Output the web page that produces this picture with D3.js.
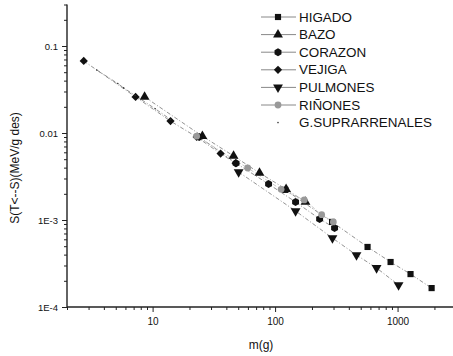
<!DOCTYPE html>
<html>
<head>
<meta charset="utf-8">
<script src="https://cdn.jsdelivr.net/npm/d3@7"></script>
<style>
  body { margin: 0; background: #fff; }
  text { font-family: "Liberation Sans", Arial, sans-serif; fill: #111; }
</style>
</head>
<body>
<svg id="chart" width="453" height="356"></svg>
<script>
// series: organ masses (g) and S values (MeV/g des)
const seriesNames = ["HIGADO", "BAZO", "CORAZON", "VEJIGA", "PULMONES", "RIÑONES", "G.SUPRARRENALES"];

const higadoM = [121, 292, 569, 877, 1276, 1897];
const higadoS = [0.00222, 0.00095, 0.00049, 0.000329, 0.000239, 0.000165];

const bazoM = [8.6, 25.5, 45.8, 74.6, 123, 177];
const bazoS = [0.026, 0.0092, 0.00545, 0.00347, 0.00226, 0.00161];

const corazonM = [24, 48, 88.5, 147, 231, 306];
const corazonS = [0.0090, 0.0045, 0.00259, 0.00161, 0.00103, 0.00081];

const vejigaM = [2.74, 7.26, 14.0, 22.9, 35.9, 47.6];
const vejigaS = [0.0673, 0.026, 0.0137, 0.0090, 0.0058, 0.0045];

const pulmonesM = [50.4, 147, 294, 462, 674, 1019];
const pulmonesS = [0.00356, 0.00127, 0.00062, 0.000396, 0.000281, 0.000179];

const rinonesM = [22.9, 59.7, 112, 173, 240, 299];
const rinonesS = [0.0092, 0.00396, 0.00225, 0.0017, 0.00115, 0.00095];

const suprarrenalesM = [3.5, 5.2, 5.8, 7.2, 10.5, 14];
const suprarrenalesS = [0.053, 0.037, 0.033, 0.027, 0.019, 0.0143];

const xMajor = [10, 100, 1000];
const yMajor = [0.1, 0.01, 0.001, 0.0001];
const yLabels = ["0.1", "0.01", "1E-3", "1E-4"];

const svg = d3.select("#chart");

const x = d3.scaleLog().domain([2, 3000]).range([67, 456]);
const y = d3.scaleLog().domain([0.0001, 0.3]).range([307, 4.5]);

// minor ticks 2..9 per decade
const xMinor = [];
for (let p = 0; p <= 3; p++) for (let k = 2; k <= 9; k++) {
  const v = k * Math.pow(10, p);
  if (v >= 2 && v <= 3000) xMinor.push(v);
}
const yMinor = [];
for (let p = -4; p <= -1; p++) for (let k = 2; k <= 9; k++) {
  const v = k * Math.pow(10, p);
  if (v <= 0.3001) yMinor.push(v);
}

// axes
svg.append("g")
  .attr("transform", "translate(0,307)")
  .call(d3.axisBottom(x).tickValues(xMinor).tickSize(3).tickFormat(""))
  .call(g => g.select(".domain").remove())
  .selectAll("line").attr("stroke", "#222");

svg.append("g")
  .attr("transform", "translate(0,307)")
  .call(d3.axisBottom(x).tickValues(xMajor).tickSize(5).tickPadding(6).tickFormat(d3.format("d")))
  .call(g => g.select(".domain").attr("stroke", "#222").attr("stroke-width", 1.4).attr("d", "M67,0H456"))
  .call(g => g.selectAll("text").attr("font-size", 10).attr("fill", "#222"))
  .selectAll("line").attr("stroke", "#222");

svg.append("g")
  .attr("transform", "translate(67,0)")
  .call(d3.axisLeft(y).tickValues(yMinor).tickSize(3).tickFormat(""))
  .call(g => g.select(".domain").remove())
  .selectAll("line").attr("stroke", "#222");

svg.append("g")
  .attr("transform", "translate(67,0)")
  .call(d3.axisLeft(y).tickValues(yMajor).tickSize(5).tickPadding(4)
    .tickFormat((d, i) => yLabels[i]))
  .call(g => g.select(".domain").attr("stroke", "#222").attr("stroke-width", 1.4).attr("d", "M0,4.5V307"))
  .call(g => g.selectAll("text").attr("font-size", 9.5).attr("fill", "#222"))
  .selectAll("line").attr("stroke", "#222");

// axis titles
svg.append("text")
  .attr("x", 261).attr("y", 349)
  .attr("text-anchor", "middle")
  .attr("font-size", 12)
  .text("m(g)");

svg.append("text")
  .attr("transform", "translate(19,168) rotate(-90)")
  .attr("text-anchor", "middle")
  .attr("font-size", 12)
  .text("S(T<--S)(MeV/g des)");

// markers
const hexPath = r => d3.line()(d3.range(6).map(i => {
  const a = Math.PI / 6 + i * Math.PI / 3;
  return [r * Math.cos(a), r * Math.sin(a)];
})) + "Z";

const markers = [
  { d: d3.symbol(d3.symbolSquare, 38)(), fill: "#111", rot: 0 },
  { d: d3.symbol(d3.symbolTriangle, 42)(), fill: "#111", rot: 0 },
  { d: hexPath(4), fill: "#111", rot: 0 },
  { d: d3.symbol(d3.symbolSquare, 34)(), fill: "#111", rot: 45 },
  { d: d3.symbol(d3.symbolTriangle, 42)(), fill: "#111", rot: 180 },
  { d: d3.symbol(d3.symbolCircle, 36)(), fill: "#999", rot: 0 },
  { d: d3.symbol(d3.symbolCircle, 2)(), fill: "#333", rot: 0 }
];

const seriesData = [
  [higadoM, higadoS], [bazoM, bazoS], [corazonM, corazonS], [vejigaM, vejigaS],
  [pulmonesM, pulmonesS], [rinonesM, rinonesS], [suprarrenalesM, suprarrenalesS]
].map(([m, s]) => m.map((v, i) => ({ m: v, s: s[i] })).sort((a, b) => a.m - b.m));

const line = d3.line().x(d => x(d.m)).y(d => y(d.s));

// connecting lines (scanned look: thin dash-dot)
svg.append("g").selectAll("path")
  .data(seriesData)
  .join("path")
  .attr("d", line)
  .attr("fill", "none")
  .attr("stroke", (d, i) => i === 5 ? "#bbb" : "#777")
  .attr("stroke-width", 0.8)
  .attr("stroke-dasharray", "4,2,1,2");

seriesData.forEach((pts, i) => {
  const mk = markers[i];
  svg.append("g").selectAll("path")
    .data(pts)
    .join("path")
    .attr("d", mk.d)
    .attr("fill", mk.fill)
    .attr("transform", d => `translate(${x(d.m)},${y(d.s)}) rotate(${mk.rot})`);
});

// legend
const legend = svg.append("g");
seriesNames.forEach((name, i) => {
  const ly = 17 + i * 17.6;
  const row = legend.append("g").attr("transform", `translate(0,${ly})`);
  if (i < 6) {
    row.append("line")
      .attr("x1", 261).attr("x2", 296)
      .attr("stroke", "#888").attr("stroke-width", 1);
  }
  row.append("path")
    .attr("d", markers[i].d)
    .attr("fill", markers[i].fill)
    .attr("transform", `translate(278,0) rotate(${markers[i].rot})`);
  row.append("text")
    .attr("x", 299).attr("y", 4.5)
    .attr("font-size", 12)
    .attr("transform", "translate(299,0) scale(1.12,1) translate(-299,0)")
    .text(name);
});
</script>
</body>
</html>
